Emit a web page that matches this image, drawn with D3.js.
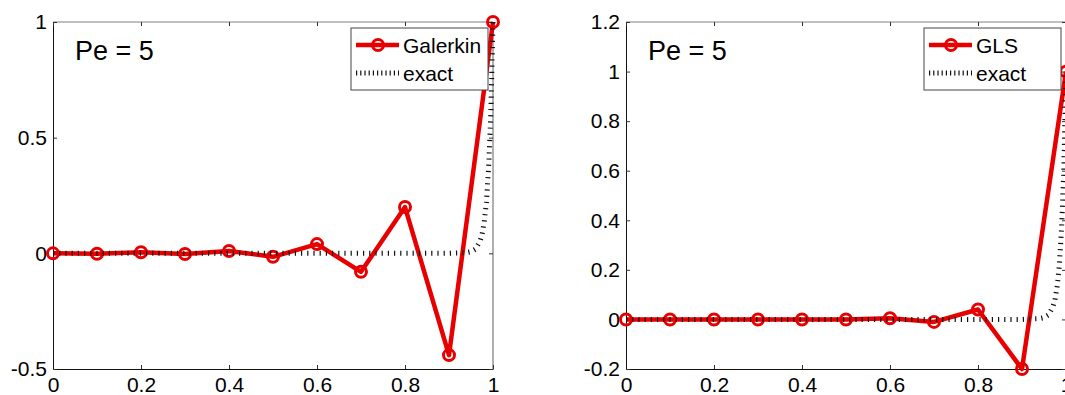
<!DOCTYPE html>
<html>
<head>
<meta charset="utf-8">
<script src="https://cdn.jsdelivr.net/npm/d3@7"></script>
<style>
  body { margin: 0; background: #fff; }
  svg { display: block; font-family: "Liberation Sans", Arial, sans-serif; }
</style>
</head>
<body>
<div id="chart"></div>
<script>
// nodal positions and solutions
const nodes = [0, 0.1, 0.2, 0.3, 0.4, 0.5, 0.6, 0.7, 0.8, 0.9, 1];
const galerkin = [0, -0.002, 0.005, -0.003, 0.01, -0.015, 0.04, -0.08, 0.2, -0.44, 1];
const gls = [0, 0, 0, 0, 0, 0, 0.005, -0.01, 0.04, -0.2, 1];

// exact solution, sampled from the dotted curve
const exactX = [0, 0.9, 0.94, 0.95, 0.96, 0.97, 0.975, 0.98, 0.985, 0.99, 0.995, 1];
const exactY = [0, 0, 0.003, 0.007, 0.018, 0.05, 0.08, 0.135, 0.22, 0.37, 0.6, 1];

const xTicks = [0, 0.2, 0.4, 0.6, 0.8, 1];
const leftYTicks = [-0.5, 0, 0.5, 1];
const rightYTicks = [-0.2, 0, 0.2, 0.4, 0.6, 0.8, 1, 1.2];

const panels = [
  { name: 'Galerkin', values: galerkin, yDomain: [-0.5, 1], yTicks: leftYTicks, left: 53 },
  { name: 'GLS', values: gls, yDomain: [-0.2, 1.2], yTicks: rightYTicks, left: 626 }
];

const width = 1065, height = 395;
const marginTop = 22, plotW = 440, plotH = 347;
const red = '#e80000';

const svg = d3.select('#chart').append('svg')
  .attr('width', width)
  .attr('height', height);

panels.forEach(p => {
  const g = svg.append('g').attr('transform', 'translate(' + p.left + ',' + marginTop + ')');

  const x = d3.scaleLinear().domain([0, 1]).range([0, plotW]);
  const y = d3.scaleLinear().domain(p.yDomain).range([plotH, 0]);
  const fmt = d => String(d);

  // box: gray top/right, black left/bottom
  g.append('line').attr('x1', 0).attr('x2', plotW).attr('y1', 0).attr('y2', 0)
    .attr('stroke', '#808080');
  g.append('line').attr('x1', plotW).attr('x2', plotW).attr('y1', 0).attr('y2', plotH)
    .attr('stroke', '#606060');

  const bottom = g.append('g').attr('transform', 'translate(0,' + plotH + ')')
    .call(d3.axisBottom(x).tickValues(xTicks).tickFormat(fmt).tickSize(-4).tickSizeOuter(0).tickPadding(8));
  const leftAx = g.append('g')
    .call(d3.axisLeft(y).tickValues(p.yTicks).tickFormat(fmt).tickSize(-4).tickSizeOuter(0).tickPadding(6));
  g.append('g')
    .call(d3.axisTop(x).tickValues(xTicks).tickFormat('').tickSize(-4).tickSizeOuter(0))
    .select('.domain').remove();
  g.append('g').attr('transform', 'translate(' + plotW + ',0)')
    .call(d3.axisRight(y).tickValues(p.yTicks).tickFormat('').tickSize(-4).tickSizeOuter(0))
    .select('.domain').remove();

  [bottom, leftAx].forEach(a => {
    a.selectAll('text').style('font-size', '21px').attr('fill', '#000');
    a.select('.domain').attr('stroke', '#111');
  });
  g.selectAll('.tick line').attr('stroke', '#333');

  // numerical solution
  const pts = nodes.map((n, i) => [n, p.values[i]]);
  const line = d3.line().x(d => x(d[0])).y(d => y(d[1]));
  g.append('path').datum(pts)
    .attr('d', line)
    .attr('fill', 'none')
    .attr('stroke', red)
    .attr('stroke-width', 4.5)
    .attr('stroke-linejoin', 'round');
  g.selectAll('circle.node').data(pts).enter().append('circle')
    .attr('class', 'node')
    .attr('cx', d => x(d[0]))
    .attr('cy', d => y(d[1]))
    .attr('r', 5.5)
    .attr('fill', 'none')
    .attr('stroke', red)
    .attr('stroke-width', 3);

  // exact solution
  const ex = exactX.map((v, i) => [v, exactY[i]]);
  g.append('path').datum(ex)
    .attr('d', line)
    .attr('fill', 'none')
    .attr('stroke', '#111')
    .attr('stroke-width', 5)
    .attr('stroke-dasharray', '1.2,5');

  // annotation
  g.append('text')
    .attr('x', 22).attr('y', 38)
    .style('font-size', '27px')
    .text('Pe = 5');

  // legend
  const lg = g.append('g').attr('transform', 'translate(' + (plotW - 142) + ',6)');
  lg.append('rect')
    .attr('width', 137).attr('height', 62)
    .attr('fill', '#fff')
    .attr('stroke', '#444');
  lg.append('line').attr('x1', 5).attr('x2', 48).attr('y1', 17).attr('y2', 17)
    .attr('stroke', red).attr('stroke-width', 4.5);
  lg.append('circle').attr('cx', 27).attr('cy', 17).attr('r', 5.5)
    .attr('fill', 'none').attr('stroke', red).attr('stroke-width', 3);
  lg.append('line').attr('x1', 5).attr('x2', 48).attr('y1', 45).attr('y2', 45)
    .attr('stroke', '#111').attr('stroke-width', 5).attr('stroke-dasharray', '1.2,3');
  lg.append('text').attr('x', 52).attr('y', 25).style('font-size', '21px').text(p.name);
  lg.append('text').attr('x', 52).attr('y', 53).style('font-size', '21px').text('exact');
});
</script>
</body>
</html>
